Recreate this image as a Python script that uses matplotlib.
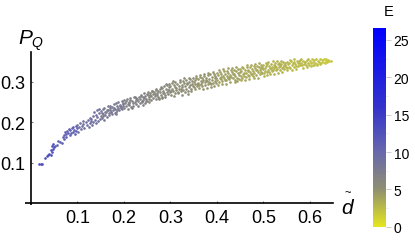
"""Scatter of P_Q against scaled distance, coloured by energy."""

import matplotlib

matplotlib.use("Agg")

import matplotlib.pyplot as plt
import numpy as np
from matplotlib.colors import LinearSegmentedColormap

plt.rcParams["font.family"] = ["Liberation Sans", "DejaVu Sans"]

band_e = [13.0, 11.0, 9.0, 7.8, 6.8, 6.0, 5.3, 4.7, 4.1, 3.6, 3.1, 2.6, 2.2, 1.8]

band_d = [
    [0.017, 0.021, 0.024, 0.031, 0.034, 0.037, 0.039, 0.042, 0.043, 0.045, 0.046, 0.047, 0.048, 0.049],
    [0.051, 0.055, 0.058, 0.063, 0.066, 0.068, 0.07, 0.071, 0.073, 0.075, 0.076, 0.078, 0.08, 0.081, 0.083, 0.085,
     0.086, 0.088, 0.09, 0.091, 0.093, 0.094, 0.096, 0.097, 0.099],
    [0.1, 0.102, 0.104, 0.105, 0.107, 0.109, 0.111, 0.112, 0.114, 0.118, 0.12, 0.122, 0.124, 0.126, 0.127, 0.129,
     0.13, 0.131, 0.133, 0.134, 0.136, 0.137, 0.139, 0.14, 0.141, 0.143, 0.144, 0.146, 0.147, 0.149],
    [0.15, 0.151, 0.153, 0.154, 0.156, 0.157, 0.158, 0.16, 0.161, 0.163, 0.164, 0.165, 0.167, 0.168, 0.17, 0.171,
     0.172, 0.174, 0.175, 0.177, 0.178, 0.18, 0.181, 0.183, 0.184, 0.185, 0.187, 0.188, 0.19, 0.191, 0.193, 0.195,
     0.196, 0.198, 0.199,
     0.152, 0.159, 0.166, 0.173, 0.179, 0.186, 0.192, 0.197, 0.155, 0.169, 0.182, 0.194],
    [0.2, 0.201, 0.203, 0.205, 0.206, 0.208, 0.21, 0.211, 0.213, 0.215, 0.217, 0.219, 0.22, 0.222, 0.224, 0.226,
     0.228, 0.23, 0.232, 0.234, 0.235, 0.237, 0.239, 0.24, 0.242, 0.243, 0.245, 0.246, 0.248, 0.249,
     0.204, 0.209, 0.214, 0.218, 0.223, 0.227, 0.231, 0.236, 0.241, 0.244, 0.247, 0.212, 0.225, 0.238],
    [0.25, 0.251, 0.253, 0.254, 0.256, 0.257, 0.259, 0.26, 0.262, 0.263, 0.265, 0.266, 0.268, 0.269, 0.271, 0.272,
     0.274, 0.275, 0.277, 0.278, 0.28, 0.281, 0.283, 0.284, 0.286, 0.287, 0.289, 0.29, 0.292, 0.293, 0.295, 0.296,
     0.297, 0.298, 0.299,
     0.252, 0.258, 0.261, 0.267, 0.27, 0.276, 0.279, 0.285, 0.288, 0.291, 0.294, 0.255, 0.273, 0.282],
    [0.3, 0.301, 0.303, 0.304, 0.306, 0.307, 0.309, 0.31, 0.312, 0.313, 0.315, 0.316, 0.318, 0.319, 0.321, 0.322,
     0.324, 0.325, 0.327, 0.328, 0.33, 0.331, 0.333, 0.334, 0.336, 0.337, 0.339, 0.34, 0.342, 0.343, 0.345, 0.346,
     0.347, 0.348, 0.349,
     0.302, 0.305, 0.308, 0.311, 0.317, 0.32, 0.323, 0.326, 0.329, 0.332, 0.335, 0.338, 0.341, 0.344],
    [0.35, 0.351, 0.353, 0.354, 0.356, 0.357, 0.359, 0.36, 0.362, 0.363, 0.365, 0.366, 0.368, 0.369, 0.371, 0.372,
     0.374, 0.375, 0.377, 0.378, 0.38, 0.381, 0.383, 0.384, 0.386, 0.387, 0.389, 0.39, 0.392, 0.393, 0.395, 0.396,
     0.397, 0.398, 0.399,
     0.352, 0.355, 0.358, 0.361, 0.364, 0.367, 0.37, 0.373, 0.376, 0.379, 0.382, 0.385, 0.388, 0.391, 0.394],
    [0.4, 0.401, 0.403, 0.404, 0.406, 0.407, 0.409, 0.41, 0.412, 0.413, 0.415, 0.416, 0.418, 0.419, 0.421, 0.422,
     0.424, 0.425, 0.427, 0.428, 0.43, 0.431, 0.433, 0.434, 0.436, 0.437, 0.439, 0.44, 0.442, 0.443, 0.445, 0.446,
     0.447, 0.448, 0.449,
     0.402, 0.405, 0.408, 0.411, 0.414, 0.417, 0.42, 0.423, 0.426, 0.429, 0.432, 0.435, 0.438, 0.441, 0.444],
    [0.45, 0.451, 0.453, 0.454, 0.456, 0.457, 0.459, 0.46, 0.462, 0.463, 0.465, 0.466, 0.468, 0.469, 0.471, 0.472,
     0.474, 0.475, 0.477, 0.478, 0.48, 0.481, 0.483, 0.484, 0.486, 0.487, 0.489, 0.49, 0.492, 0.493, 0.495, 0.496,
     0.497, 0.498, 0.499,
     0.452, 0.455, 0.458, 0.461, 0.464, 0.467, 0.47, 0.473, 0.476, 0.479, 0.482, 0.485, 0.488, 0.491, 0.494],
    [0.5, 0.501, 0.503, 0.504, 0.506, 0.507, 0.509, 0.51, 0.512, 0.513, 0.515, 0.516, 0.518, 0.519, 0.521, 0.522,
     0.524, 0.525, 0.527, 0.528, 0.53, 0.531, 0.533, 0.534, 0.536, 0.537, 0.539, 0.54, 0.542, 0.543, 0.545, 0.546,
     0.547, 0.549,
     0.502, 0.505, 0.508, 0.511, 0.514, 0.517, 0.52, 0.523, 0.526, 0.529, 0.532, 0.535, 0.538, 0.541, 0.544],
    [0.55, 0.551, 0.553, 0.555, 0.556, 0.558, 0.56, 0.561, 0.563, 0.565, 0.567, 0.568, 0.57, 0.572, 0.574, 0.575,
     0.577, 0.579, 0.58, 0.582, 0.584, 0.586, 0.588, 0.59, 0.592, 0.594, 0.596, 0.598,
     0.552, 0.557, 0.562, 0.566, 0.571, 0.576, 0.581, 0.585, 0.589, 0.593, 0.597],
    [0.6, 0.602, 0.604, 0.606, 0.608, 0.61, 0.612, 0.614, 0.616, 0.618, 0.62, 0.622, 0.624,
     0.603, 0.609, 0.615, 0.621],
    [0.626, 0.628, 0.63, 0.632, 0.634, 0.636, 0.638, 0.64, 0.642, 0.645],
]

band_p = [
    [0.097, 0.097, 0.097, 0.111, 0.115, 0.119, 0.121, 0.118, 0.131, 0.127, 0.14, 0.133, 0.146, 0.138],
    [0.142, 0.143, 0.154, 0.152, 0.149, 0.162, 0.168, 0.158, 0.176, 0.171, 0.163, 0.178, 0.173, 0.183, 0.167, 0.18,
     0.172, 0.186, 0.175, 0.189, 0.181, 0.17, 0.191, 0.179, 0.186],
    [0.194, 0.176, 0.188, 0.198, 0.182, 0.191, 0.203, 0.195, 0.186, 0.199, 0.192, 0.206, 0.189, 0.197, 0.211, 0.202,
     0.208, 0.194, 0.214, 0.2, 0.225, 0.206, 0.218, 0.198, 0.229, 0.212, 0.203, 0.222, 0.232, 0.207],
    [0.216, 0.228, 0.211, 0.233, 0.221, 0.205, 0.236, 0.217, 0.226, 0.231, 0.213, 0.239, 0.222, 0.218, 0.234, 0.241,
     0.226, 0.219, 0.237, 0.229, 0.244, 0.222, 0.233, 0.247, 0.226, 0.24, 0.236, 0.249, 0.229, 0.243, 0.238, 0.252,
     0.232, 0.246, 0.24,
     0.223, 0.224, 0.229, 0.226, 0.235, 0.231, 0.241, 0.244, 0.214, 0.23, 0.219, 0.235],
    [0.254, 0.235, 0.247, 0.241, 0.257, 0.232, 0.25, 0.243, 0.259, 0.238, 0.253, 0.246, 0.241, 0.261, 0.249, 0.244,
     0.258, 0.252, 0.263, 0.247, 0.256, 0.267, 0.25, 0.261, 0.254, 0.271, 0.247, 0.264, 0.257, 0.269,
     0.251, 0.244, 0.255, 0.235, 0.262, 0.254, 0.24, 0.265, 0.243, 0.259, 0.251, 0.248, 0.26, 0.252],
    [0.252, 0.274, 0.262, 0.258, 0.272, 0.266, 0.255, 0.277, 0.269, 0.26, 0.274, 0.264, 0.28, 0.257, 0.271, 0.266,
     0.278, 0.26, 0.282, 0.274, 0.268, 0.285, 0.263, 0.278, 0.272, 0.288, 0.267, 0.282, 0.275, 0.291, 0.27, 0.286,
     0.279, 0.293, 0.274,
     0.268, 0.264, 0.276, 0.27, 0.283, 0.256, 0.287, 0.272, 0.262, 0.295, 0.28, 0.249, 0.263, 0.259],
    [0.289, 0.268, 0.296, 0.281, 0.276, 0.292, 0.271, 0.298, 0.285, 0.279, 0.294, 0.274, 0.289, 0.283, 0.3, 0.277,
     0.292, 0.286, 0.302, 0.28, 0.296, 0.288, 0.283, 0.304, 0.293, 0.278, 0.299, 0.287, 0.306, 0.291, 0.283, 0.301,
     0.295, 0.289, 0.308,
     0.278, 0.302, 0.265, 0.287, 0.272, 0.305, 0.282, 0.268, 0.308, 0.274, 0.297, 0.27, 0.31, 0.276],
    [0.298, 0.286, 0.303, 0.293, 0.31, 0.289, 0.306, 0.297, 0.291, 0.312, 0.301, 0.294, 0.308, 0.288, 0.304, 0.314,
     0.298, 0.292, 0.31, 0.302, 0.316, 0.295, 0.306, 0.299, 0.318, 0.293, 0.312, 0.304, 0.297, 0.32, 0.308, 0.301,
     0.315, 0.296, 0.31,
     0.281, 0.313, 0.295, 0.284, 0.317, 0.3, 0.282, 0.319, 0.303, 0.285, 0.322, 0.296, 0.287, 0.323, 0.289],
    [0.322, 0.304, 0.316, 0.299, 0.31, 0.324, 0.306, 0.318, 0.301, 0.313, 0.326, 0.308, 0.32, 0.303, 0.315, 0.327,
     0.31, 0.322, 0.306, 0.317, 0.329, 0.312, 0.324, 0.308, 0.319, 0.33, 0.304, 0.314, 0.326, 0.31, 0.321, 0.331,
     0.316, 0.307, 0.324,
     0.291, 0.328, 0.312, 0.294, 0.331, 0.305, 0.295, 0.333, 0.311, 0.298, 0.334, 0.32, 0.299, 0.336, 0.302],
    [0.332, 0.313, 0.327, 0.309, 0.32, 0.334, 0.315, 0.329, 0.311, 0.322, 0.335, 0.317, 0.33, 0.313, 0.324, 0.336,
     0.319, 0.332, 0.315, 0.326, 0.338, 0.321, 0.333, 0.317, 0.328, 0.339, 0.323, 0.335, 0.319, 0.33, 0.34, 0.325,
     0.336, 0.321, 0.331,
     0.303, 0.337, 0.322, 0.305, 0.34, 0.326, 0.306, 0.342, 0.318, 0.308, 0.344, 0.328, 0.31, 0.346, 0.334],
    [0.341, 0.322, 0.334, 0.327, 0.338, 0.324, 0.343, 0.33, 0.325, 0.339, 0.333, 0.344, 0.327, 0.336, 0.329, 0.341,
     0.334, 0.345, 0.328, 0.337, 0.331, 0.343, 0.335, 0.347, 0.33, 0.339, 0.344, 0.333, 0.348, 0.337, 0.332, 0.345,
     0.34, 0.335,
     0.313, 0.347, 0.316, 0.349, 0.318, 0.332, 0.35, 0.319, 0.338, 0.351, 0.321, 0.342, 0.352, 0.323, 0.34],
    [0.349, 0.334, 0.343, 0.337, 0.347, 0.333, 0.351, 0.34, 0.345, 0.336, 0.349, 0.343, 0.338, 0.352, 0.346, 0.339,
     0.35, 0.342, 0.354, 0.347, 0.34, 0.351, 0.344, 0.349, 0.342, 0.353, 0.346, 0.341,
     0.328, 0.353, 0.329, 0.355, 0.331, 0.345, 0.356, 0.333, 0.348, 0.335, 0.355],
    [0.351, 0.345, 0.355, 0.342, 0.349, 0.353, 0.346, 0.356, 0.344, 0.351, 0.348, 0.357, 0.345,
     0.338, 0.34, 0.341, 0.343],
    [0.353, 0.348, 0.356, 0.346, 0.352, 0.357, 0.349, 0.354, 0.35, 0.352],
]

tick_d = [0.1, 0.2, 0.3, 0.4, 0.5, 0.6]
tick_p = [0.1, 0.2, 0.3]
tick_e = [0, 5, 10, 15, 20, 25]

cmap = LinearSegmentedColormap.from_list(
    "e_scale",
    [(0.0, "#e6e61e"), (0.19, "#8f8f72"), (0.38, "#6868ae"), (0.6, "#3434cc"), (1.0, "#0000ff")],
)
E_MAX = 26.6

W, H = 415, 253
fig = plt.figure(figsize=(W / 100, H / 100), dpi=100)

# plot area, pixel edges from the reference
ax = fig.add_axes([31 / W, 1 - 204 / H, (333 - 31) / W, (204 - 52.7) / H])
ax.set_xlim(0, 0.65)
ax.set_ylim(0, 0.374)
for d, p, e in zip(band_d, band_p, band_e):
    ax.scatter(d, p, s=3.6, color=cmap(e / E_MAX), marker="o", linewidths=0, clip_on=False)

ax.spines[["top", "right"]].set_visible(False)
ax.spines[["left", "bottom"]].set_linewidth(1.2)
ax.plot([-0.013, 0], [0, 0], color="black", lw=1.2, clip_on=False, solid_capstyle="butt")
ax.plot([0, 0], [-0.005, 0], color="black", lw=1.2, clip_on=False, solid_capstyle="butt")
ax.set_xticks(tick_d)
ax.set_yticks(tick_p)
ax.set_xticklabels([f"{v:.1f}" for v in tick_d])
ax.set_yticklabels([f"{v:.1f}" for v in tick_p])
ax.tick_params(direction="in", length=1.5, width=0.6, color="#555555", labelsize=13, pad=4)
ax.patch.set_alpha(0)

fig.text(18 / W, 1 - 44 / H, "P", fontsize=15, style="italic", ha="left", va="baseline")
fig.text(31 / W, 1 - 47 / H, "Q", fontsize=10, style="italic", ha="left", va="baseline")
fig.text(341 / W, 1 - 214 / H, "d", fontsize=15, style="italic", ha="left", va="baseline")
fig.text(344 / W, 1 - 188 / H, "~", fontsize=8, ha="left", va="top")

# colour bar
cax = fig.add_axes([373 / W, 1 - 227.7 / H, 13 / W, (227.7 - 29) / H])
gradient = np.linspace(0, 1, 256).reshape(-1, 1)
cax.imshow(gradient, origin="lower", aspect="auto", cmap=cmap, extent=[0, 1, 0, E_MAX])
cax.set_xticks([])
cax.yaxis.tick_right()
cax.set_yticks(tick_e)
cax.set_yticklabels([str(v) for v in tick_e])
cax.set_yticks(np.arange(0, 26, 2.5), minor=True)
cax.tick_params(axis="y", which="major", length=3.5, width=0.5, color="#bbbbbb", labelsize=10, pad=2)
cax.tick_params(axis="y", which="minor", length=1.5, width=0.4, color="#dddddd")
for spine in cax.spines.values():
    spine.set_visible(False)
fig.text(389 / W, 1 - 12 / H, "E", fontsize=10.5, ha="center", va="center")

fig.savefig("out.png", dpi=100)
plt.close(fig)
